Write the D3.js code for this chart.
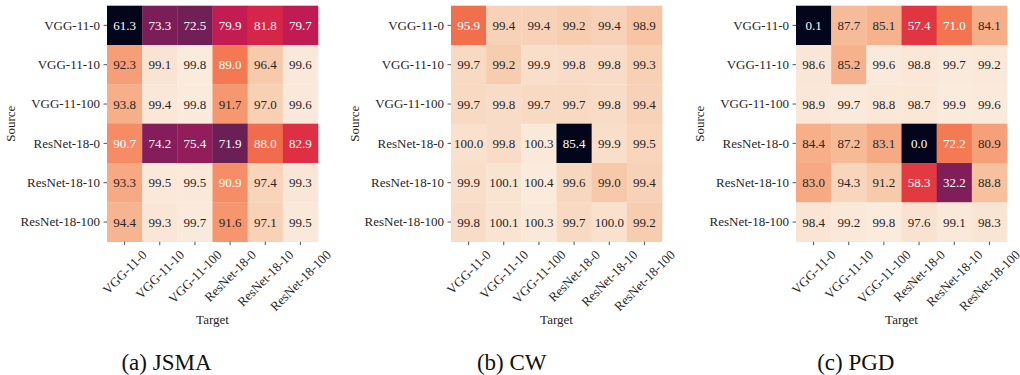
<!DOCTYPE html>
<html>
<head>
<meta charset="utf-8">
<script src="https://cdn.jsdelivr.net/npm/d3@7"></script>
<style>
  html, body { margin: 0; padding: 0; background: #fff; }
  svg { display: block; }
</style>
</head>
<body>
<svg id="chart" width="1020" height="375"></svg>
<script>
// Model names, used for both source (rows) and target (columns)
const models = ["VGG-11-0", "VGG-11-10", "VGG-11-100", "ResNet-18-0", "ResNet-18-10", "ResNet-18-100"];

// Transfer accuracy (%) per attack, rows = source, columns = target
const jsmaValues = [
  [61.3, 73.3, 72.5, 79.9, 81.8, 79.7],
  [92.3, 99.1, 99.8, 89.0, 96.4, 99.6],
  [93.8, 99.4, 99.8, 91.7, 97.0, 99.6],
  [90.7, 74.2, 75.4, 71.9, 88.0, 82.9],
  [93.3, 99.5, 99.5, 90.9, 97.4, 99.3],
  [94.4, 99.3, 99.7, 91.6, 97.1, 99.5]
];
const cwValues = [
  [95.9, 99.4, 99.4, 99.2, 99.4, 98.9],
  [99.7, 99.2, 99.9, 99.8, 99.8, 99.3],
  [99.7, 99.8, 99.7, 99.7, 99.8, 99.4],
  [100.0, 99.8, 100.3, 85.4, 99.9, 99.5],
  [99.9, 100.1, 100.4, 99.6, 99.0, 99.4],
  [99.8, 100.1, 100.3, 99.7, 100.0, 99.2]
];
const pgdValues = [
  [0.1, 87.7, 85.1, 57.4, 71.0, 84.1],
  [98.6, 85.2, 99.6, 98.8, 99.7, 99.2],
  [98.9, 99.7, 98.8, 98.7, 99.9, 99.6],
  [84.4, 87.2, 83.1, 0.0, 72.2, 80.9],
  [83.0, 94.3, 91.2, 58.3, 32.2, 88.8],
  [98.4, 99.2, 99.8, 97.6, 99.1, 98.3]
];
const captions = ["(a) JSMA", "(b) CW", "(c) PGD"];

// "rocket" colormap stops
const rocketPos = [0, 0.0909, 0.143, 0.182, 0.273, 0.286, 0.364, 0.429, 0.455, 0.545, 0.571, 0.636, 0.714, 0.727, 0.818, 0.857, 0.909, 1];
const rocketHex = ["#03051a", "#221331", "#35193e", "#451c47", "#691f55", "#701f57", "#921c5b", "#ad1759", "#b91657", "#d92847", "#e13342", "#ed513e", "#f37651", "#f47c56", "#f6a47c", "#f6b48f", "#f7c9aa", "#faebdd"];
const rocket = d3.scaleLinear().domain(rocketPos).range(rocketHex).interpolate(d3.interpolateRgb).clamp(true);

// relative luminance, used to pick dark or light annotation text
function luminance(c) {
  const rgb = d3.rgb(c);
  const lin = v => { v /= 255; return v <= 0.03928 ? v / 12.92 : Math.pow((v + 0.055) / 1.055, 2.4); };
  return 0.2126 * lin(rgb.r) + 0.7152 * lin(rgb.g) + 0.0722 * lin(rgb.b);
}

const FONT = '"Liberation Serif", "Times New Roman", serif';
const svg = d3.select("#chart");
const panels = [
  { data: jsmaValues, left: 107, caption: captions[0], capX: 166.5 },
  { data: cwValues,   left: 451, caption: captions[1], capX: 511.7 },
  { data: pgdValues,  left: 796, caption: captions[2], capX: 855.8 }
];
const W = 211, H = 236, TOP = 5.7;
const FS = 13;
const ink = "#262626";

panels.forEach(p => {
  const g = svg.append("g").attr("transform", `translate(${p.left},${TOP})`);
  const x = d3.scaleBand().domain(models).range([0, W]);
  const y = d3.scaleBand().domain(models).range([0, H]);
  const norm = d3.scaleLinear().domain(d3.extent(p.data.flat())).range([0, 1]);

  const cells = [];
  p.data.forEach((row, i) => row.forEach((v, j) => cells.push({ src: models[i], tgt: models[j], v })));

  g.selectAll("rect.cell").data(cells).join("rect")
    .attr("class", "cell")
    .attr("x", d => x(d.tgt))
    .attr("y", d => y(d.src))
    .attr("width", x.bandwidth() + 0.3)
    .attr("height", y.bandwidth() + 0.3)
    .attr("fill", d => rocket(norm(d.v)));

  g.selectAll("text.annot").data(cells).join("text")
    .attr("class", "annot")
    .attr("x", d => x(d.tgt) + x.bandwidth() / 2)
    .attr("y", d => y(d.src) + y.bandwidth() / 2)
    .attr("dy", "0.35em")
    .attr("text-anchor", "middle")
    .style("font-family", FONT)
    .attr("font-size", FS)
    .attr("fill", d => luminance(rocket(norm(d.v))) > 0.408 ? ink : "#ffffff")
    .text(d => d.v.toFixed(1));

  // y axis (source)
  const ya = g.append("g").call(d3.axisLeft(y).tickSize(3.5).tickPadding(3.5));
  ya.select(".domain").remove();
  ya.selectAll("line").attr("stroke", ink).attr("stroke-width", 0.8);
  ya.selectAll("text").attr("font-size", FS).attr("fill", ink).style("font-family", FONT);

  // x axis (target), labels rotated 45 degrees around their centre
  const xa = g.append("g").attr("transform", `translate(0,${H})`)
    .call(d3.axisBottom(x).tickSize(3.5).tickPadding(3.5));
  xa.select(".domain").remove();
  xa.selectAll("line").attr("stroke", ink).attr("stroke-width", 0.8);
  xa.selectAll("text")
    .attr("font-size", FS).attr("fill", ink)
    .style("font-family", FONT)
    .attr("text-anchor", "middle")
    .attr("y", 0).attr("dy", "0.35em")
    .attr("transform", function () {
      const w = this.getComputedTextLength();
      const half = (w + FS * 0.9) * Math.SQRT1_2 / 2;
      return `translate(0,${3.5 + 3 + half}) rotate(-45)`;
    });

  g.append("text")
    .attr("x", W / 2).attr("y", 324 - TOP)
    .attr("text-anchor", "middle")
    .style("font-family", FONT)
    .attr("font-size", FS).attr("fill", ink)
    .text("Target");

  g.append("text")
    .attr("transform", `translate(-92,${H / 2}) rotate(-90)`)
    .attr("text-anchor", "middle")
    .style("font-family", FONT)
    .attr("font-size", FS).attr("fill", ink)
    .text("Source");

  svg.append("text")
    .attr("x", p.capX).attr("y", 370)
    .attr("text-anchor", "middle")
    .style("font-family", FONT)
    .attr("font-size", 23).attr("fill", "#111")
    .text(p.caption);
});
</script>
</body>
</html>
